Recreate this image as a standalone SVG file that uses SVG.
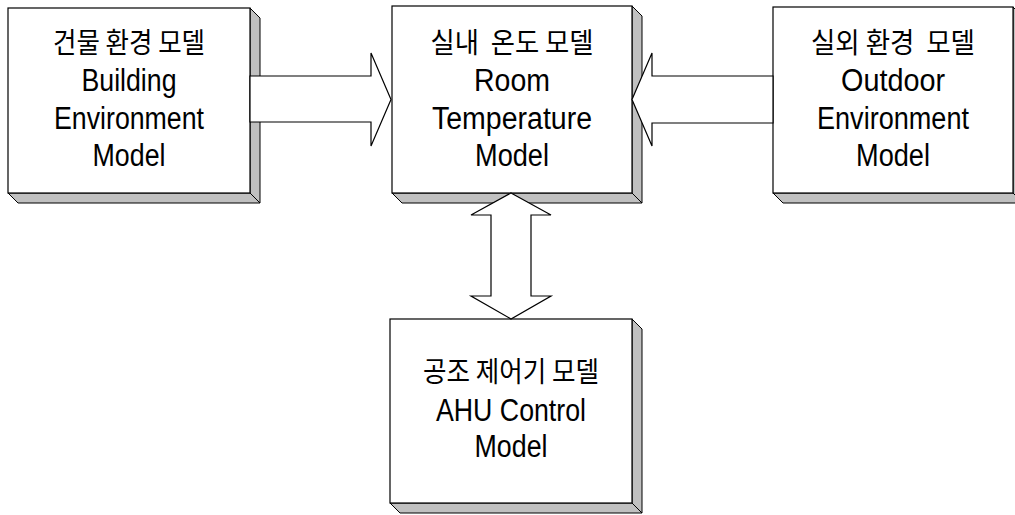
<svg xmlns="http://www.w3.org/2000/svg" width="1015" height="515" viewBox="0 0 1015 515">
<style>
.face{fill:#fff;stroke:#000;stroke-width:1.2}
.bev{fill:#c0c0c0;stroke:#000;stroke-width:1}
.ko{font-family:"Noto Sans CJK KR","Noto Sans CJK SC",sans-serif;font-size:28px;fill:#000;text-anchor:middle}
.en{font-family:"Liberation Sans",Arial,sans-serif;font-size:31px;fill:#000;text-anchor:middle}
.arr{fill:#fff;stroke:#000;stroke-width:1.2;stroke-linejoin:miter}
</style>
<rect width="1015" height="515" fill="#fff"/>
<g id="building">
<polygon class="bev" points="250,8 260,18 260,203 250,193"/>
<polygon class="bev" points="8,193 250,193 260,203 18,203"/>
<rect class="face" x="8" y="8" width="242" height="185"/>
<text class="ko" x="129" y="53" textLength="152" lengthAdjust="spacingAndGlyphs">건물 환경 모델</text>
<text class="en" x="129" y="91" textLength="95" lengthAdjust="spacingAndGlyphs">Building</text>
<text class="en" x="129" y="129" textLength="150" lengthAdjust="spacingAndGlyphs">Environment</text>
<text class="en" x="129" y="166" textLength="73" lengthAdjust="spacingAndGlyphs">Model</text>
</g>
<g id="room">
<polygon class="bev" points="632,6 642,16 642,203 632,193"/>
<polygon class="bev" points="392,193 632,193 642,203 402,203"/>
<rect class="face" x="392" y="6" width="240" height="187"/>
<text class="ko" x="512" y="53" textLength="163" lengthAdjust="spacingAndGlyphs" xml:space="preserve">실내  온도 모델</text>
<text class="en" x="512" y="91" textLength="76" lengthAdjust="spacingAndGlyphs">Room</text>
<text class="en" x="512" y="129" textLength="160" lengthAdjust="spacingAndGlyphs">Temperature</text>
<text class="en" x="512" y="166" textLength="74" lengthAdjust="spacingAndGlyphs">Model</text>
</g>
<g id="outdoor">
<polygon class="bev" points="1013,7 1023,17 1023,203 1013,193"/>
<polygon class="bev" points="773,193 1013,193 1023,203 783,203"/>
<rect class="face" x="773" y="7" width="240" height="186"/>
<text class="ko" x="893" y="53" textLength="164" lengthAdjust="spacingAndGlyphs" xml:space="preserve">실외 환경  모델</text>
<text class="en" x="893" y="91" textLength="104" lengthAdjust="spacingAndGlyphs">Outdoor</text>
<text class="en" x="893" y="129" textLength="152" lengthAdjust="spacingAndGlyphs">Environment</text>
<text class="en" x="893" y="166" textLength="74" lengthAdjust="spacingAndGlyphs">Model</text>
</g>
<g id="ahu">
<polygon class="bev" points="632,319 642,329 642,513 632,503"/>
<polygon class="bev" points="390,503 632,503 642,513 400,513"/>
<rect class="face" x="390" y="319" width="242" height="184"/>
<text class="ko" x="511" y="382" textLength="176" lengthAdjust="spacingAndGlyphs">공조 제어기 모델</text>
<text class="en" x="511" y="421" textLength="150" lengthAdjust="spacingAndGlyphs">AHU Control</text>
<text class="en" x="511" y="457" textLength="73" lengthAdjust="spacingAndGlyphs">Model</text>
</g>
<g id="connectors">
<polygon class="arr" points="250,76 371,76 371,53 391,99.5 371,146 371,122 250,122"/>
<polygon class="arr" points="773,76 652,76 652,53 632,99.5 652,146 652,123 773,123"/>
<polygon class="arr" points="511,193 551,215 531,215 531,296 551,296 511,319 471,296 491,296 491,215 471,215"/>
</g>
</svg>
